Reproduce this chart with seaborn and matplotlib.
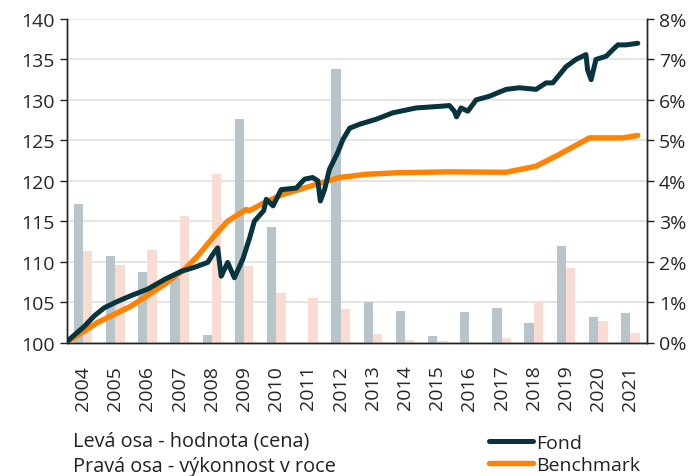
import matplotlib
matplotlib.use('Agg')
import matplotlib.pyplot as plt
from matplotlib.ticker import FuncFormatter
import seaborn as sns
import numpy as np
import pandas as pd

# yearly performance bars (right axis, %)
years = list(range(2004, 2022))
fund_perf = [3.42, 2.14, 1.75, 1.60, 0.18, 5.53, 2.85, 0.00, 6.77, 1.01,
             0.78, 0.16, 0.76, 0.85, 0.48, 2.38, 0.64, 0.73]
bench_perf = [2.27, 1.92, 2.29, 3.13, 4.16, 1.88, 1.22, 1.10, 0.82, 0.20,
              0.06, 0.03, 0.00, 0.11, 1.00, 1.83, 0.52, 0.23]

# value lines (left axis), time in decimal years
fund_t = [2004.02, 2004.54, 2004.85, 2005.16, 2005.58, 2005.99, 2006.51, 2007.03,
          2007.55, 2007.96, 2008.37, 2008.53, 2008.68, 2008.79, 2008.99, 2009.20,
          2009.46, 2009.67, 2009.82, 2010.11, 2010.19, 2010.40, 2010.65, 2011.12,
          2011.38, 2011.63, 2011.79, 2011.87, 2012.00, 2012.15, 2012.41, 2012.57,
          2012.78, 2013.10, 2013.60, 2014.12, 2014.84, 2015.57, 2015.88, 2016.03,
          2016.10, 2016.24, 2016.45, 2016.71, 2017.12, 2017.64, 2018.05, 2018.57,
          2018.88, 2019.09, 2019.50, 2019.81, 2020.12, 2020.17, 2020.28, 2020.43,
          2020.75, 2020.95, 2021.11, 2021.37, 2021.73]
fund_val = [100.2, 102.0, 103.3, 104.3, 105.1, 105.8, 106.6, 107.8,
            108.8, 109.3, 109.9, 110.9, 111.7, 108.2, 109.9, 108.0,
            110.3, 112.9, 115.0, 116.3, 117.7, 116.9, 118.9, 119.1,
            120.2, 120.4, 120.0, 117.5, 118.9, 121.4, 123.5, 125.1,
            126.5, 127.0, 127.6, 128.4, 129.0, 129.2, 129.3, 128.6,
            127.9, 129.0, 128.6, 130.0, 130.45, 131.3, 131.5, 131.3,
            132.1, 132.1, 134.1, 135.0, 135.6, 133.7, 132.5, 135.0,
            135.4, 136.2, 136.8, 136.8, 137.0]

bench_t = [2004.02, 2004.96, 2005.99, 2007.03, 2007.65, 2008.06, 2008.58, 2008.99,
           2009.57, 2009.67, 2010.13, 2010.70, 2011.74, 2012.46, 2013.29, 2014.33,
           2015.88, 2017.64, 2018.57, 2019.19, 2020.23, 2021.26, 2021.73]
bench_val = [100.1, 102.5, 104.5, 107.2, 109.05, 110.7, 113.2, 115.0,
             116.45, 116.3, 117.3, 118.3, 119.55, 120.4, 120.8, 121.0,
             121.1, 121.05, 121.8, 123.05, 125.3, 125.3, 125.6]

FUND_LINE = '#07343f'
BENCH_LINE = '#ff8200'
FUND_BAR = '#b4c5cd'
BENCH_BAR = '#ffd9ca'

sns.set_style('white')
plt.rcParams['font.family'] = ['Open Sans', 'DejaVu Sans']

fig = plt.figure(figsize=(6.99, 4.77), dpi=100)
ax = fig.add_axes([67 / 699, 1 - 343.5 / 477, (646.5 - 67) / 699, (343.5 - 20) / 477])

bars = pd.DataFrame({
    'year': [str(y) for y in years] * 2,
    'perf': fund_perf + bench_perf,
    'series': ['Fond'] * len(years) + ['Benchmark'] * len(years),
})
sns.barplot(data=bars, x='year', y='perf', hue='series',
            palette=[FUND_BAR, BENCH_BAR], width=0.58, gap=0,
            legend=False, ax=ax, linewidth=0)

ax2 = ax.twinx()
x_fund = np.array(fund_t) - 2004.5
x_bench = np.array(bench_t) - 2004.5
sns.lineplot(x=x_bench, y=bench_val, sort=False, color=BENCH_LINE, lw=3.9,
             ax=ax2, label='Benchmark')
sns.lineplot(x=x_fund, y=fund_val, sort=False, color=FUND_LINE, lw=3.6,
             ax=ax2, label='Fond')

# bars axis -> right side in %
ax.set_ylim(0, 8)
ax.set_yticks(range(0, 9))
ax.yaxis.set_major_formatter(FuncFormatter(lambda v, p: f'{v:.0f}%'))
ax.yaxis.tick_right()
ax.yaxis.set_label_position('right')
ax.set_xlabel('')
ax.set_ylabel('')
ax.set_axisbelow(True)
ax.yaxis.grid(True, color='#e0e0e0', lw=1.2)

# lines axis -> left side values
ax2.set_ylim(100, 140)
ax2.set_yticks(range(100, 141, 5))
ax2.yaxis.tick_left()
ax2.yaxis.set_label_position('left')
ax2.set_ylabel('')
ax2.get_legend().remove()

ax.set_xlim(-0.5, 17.5)
ax.set_xticks(range(len(years)))
ax.set_xticklabels([str(y) for y in years], rotation=90)
ax.set_xticks(np.arange(-0.5, 18, 1), minor=True)
ax.tick_params(axis='x', which='major', length=0, pad=16, labelsize=14)
ax.tick_params(axis='x', which='minor', length=5.5, width=1, color='#333333', direction='out')
ax.tick_params(axis='y', which='major', length=5, width=1, color='#222222',
               labelsize=14, right=True, left=False, pad=4)
ax2.tick_params(axis='y', which='major', length=5, width=1, color='#222222',
                labelsize=14, left=True, right=False, pad=4)

for a in (ax, ax2):
    a.spines['top'].set_visible(False)
    for s in ('left', 'right', 'bottom'):
        a.spines[s].set_color('#222222')
        a.spines[s].set_linewidth(1)

# legend + axis notes
fig.text(73 / 699, 1 - 442 / 477, 'Levá osa - hodnota (cena)', fontsize=14.3,
         va='center', ha='left', color='#222222')
fig.text(73 / 699, 1 - 467 / 477, 'Pravá osa - výkonnost v roce', fontsize=14.3,
         va='center', ha='left', color='#222222')
handles, labels = ax2.get_legend_handles_labels()
order = [labels.index('Fond'), labels.index('Benchmark')]
fig.legend([handles[i] for i in order], [labels[i] for i in order],
           loc='center left', bbox_to_anchor=(479 / 699, 1 - 455 / 477),
           frameon=False, fontsize=14, handlelength=2.3, handletextpad=0.15,
           labelspacing=0.2, borderpad=0, labelcolor='#222222')

plt.savefig('out.png', dpi=100)
plt.close()
